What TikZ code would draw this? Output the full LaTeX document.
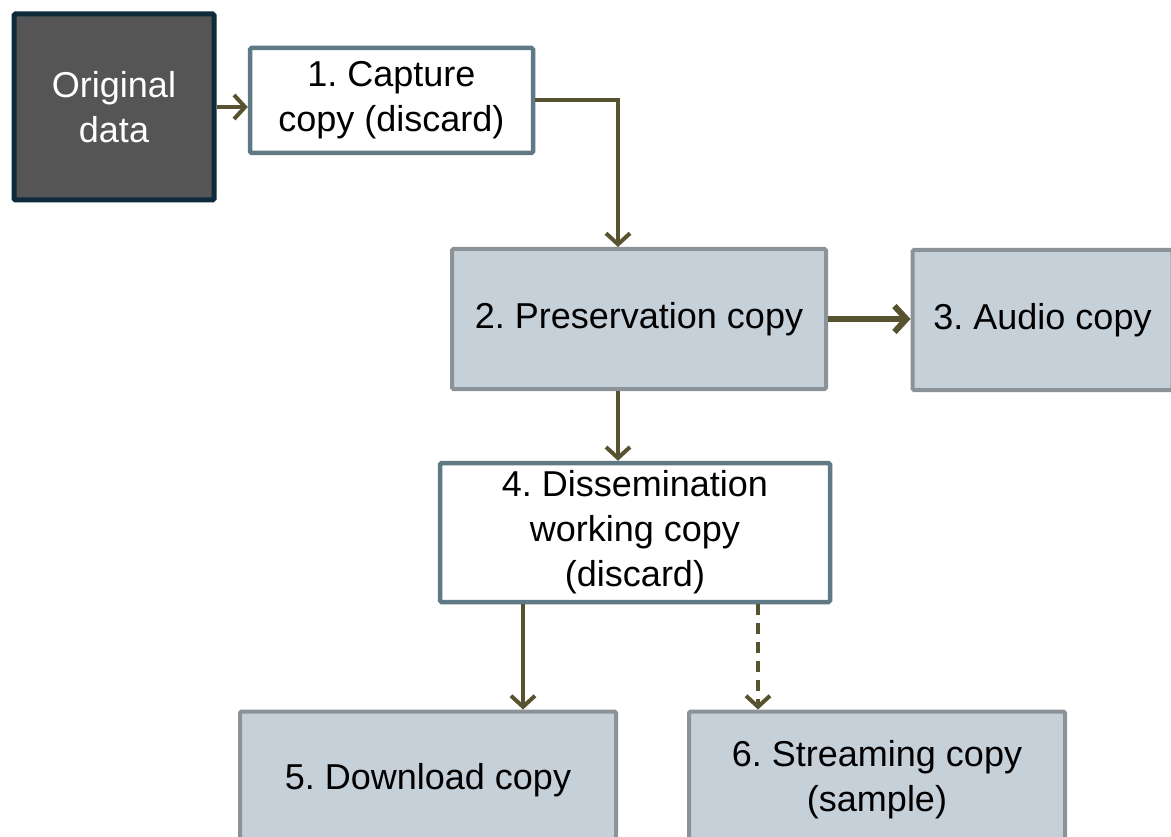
\documentclass[tikz,border=0pt]{standalone}
\usepackage{fontspec}
\setmainfont{Liberation Sans}
\usetikzlibrary{arrows.meta}
\definecolor{arrowc}{HTML}{57522F}
\definecolor{origfill}{HTML}{555555}
\definecolor{origdraw}{HTML}{0E2B3B}
\definecolor{whitedraw}{HTML}{5F7985}
\definecolor{bluefill}{HTML}{C6D0D9}
\definecolor{bluedraw}{HTML}{8B9399}
\frenchspacing
\tikzset{
  basebox/.style={rectangle, rounded corners=1.5pt, align=center, inner sep=0pt,
    font=\fontsize{36}{45}\selectfont},
  origbox/.style={basebox, fill=origfill, draw=origdraw, line width=5pt, text=white},
  whitebox/.style={basebox, fill=white, draw=whitedraw, line width=4.5pt, text=black},
  bluebox/.style={basebox, fill=bluefill, draw=bluedraw, line width=4pt, text=black},
  conn/.style={draw=arrowc, line width=4pt, -{Straight Barb[length=11pt,width=24pt,line width=4pt]}},
  thickconn/.style={draw=arrowc, line width=6.5pt, -{Straight Barb[length=12pt,width=26pt,line width=6pt]}},
}
\begin{document}
\begin{tikzpicture}[x=1pt,y=-1pt]
\useasboundingbox[fill=white] (0,0) rectangle (1171,837);
\clip (0,0) rectangle (1171,837);
\node[origbox, minimum width=200pt, minimum height=186pt] (orig) at (114,107) {Original\\data};
\node[whitebox, minimum width=283pt, minimum height=105pt] (b1) at (391.5,100.5) {1. Capture\\copy (discard)};
\node[bluebox, minimum width=374pt, minimum height=140pt] (b2) at (639,319) {2. Preservation copy};
\node[bluebox, minimum width=260pt, minimum height=140pt] (b3) at (1042.5,320) {3. Audio copy};
\node[whitebox, minimum width=390pt, minimum height=139pt] (b4) at (635,532.5) {4. Dissemination\\working copy\\(discard)};
\node[bluebox, minimum width=376pt, minimum height=137pt] (b5) at (428,780) {5. Download copy};
\node[bluebox, minimum width=376pt, minimum height=137pt] (b6) at (877,780) {6. Streaming copy\\(sample)};
\coordinate (in2) at ([xshift=-21pt]b2.north);
\coordinate (out2) at ([xshift=-21pt]b2.south);
\coordinate (in5) at ([xshift=95pt]b5.north);
\coordinate (in6) at ([xshift=-119pt]b6.north);
\draw[conn] (orig.east) -- (orig.east -| b1.west);
\draw[conn] (b1.east) -| (in2);
\draw[thickconn] (b2.east) -- (b2.east -| b3.west);
\draw[conn] (out2) -- (out2 |- b4.north);
\draw[conn] (in5 |- b4.south) -- (in5);
\draw[conn, dash pattern=on 11pt off 8pt] (in6 |- b4.south) -- (in6);
\end{tikzpicture}
\end{document}
